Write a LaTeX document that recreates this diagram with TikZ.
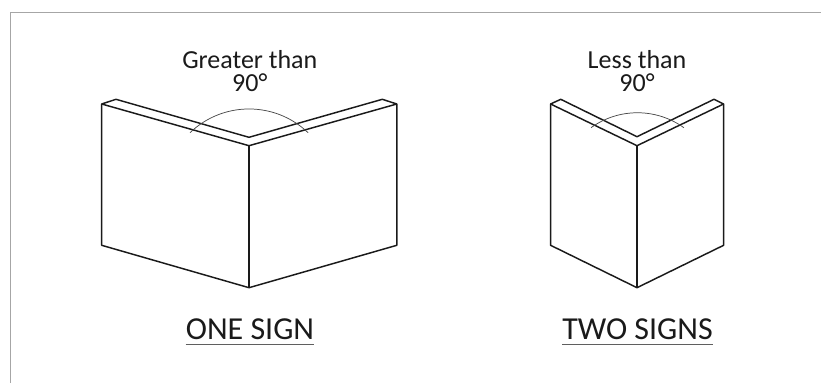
\documentclass[tikz,border=0pt]{standalone}
\usepackage{fontspec}
\usetikzlibrary{calc}
\setmainfont{Carlito}
\definecolor{framegray}{HTML}{A6A6A6}
\definecolor{inkblack}{HTML}{1A1A1A}
\tikzset{
  wall/.style={line width=1.1pt,draw=inkblack,line join=round},
  anglearc/.style={line width=0.55pt,draw=inkblack!80},
  signrule/.style={line width=0.8pt,draw=inkblack!70},
  anglelabel/.style={anchor=south,align=center,inner sep=0pt,text=inkblack,font=\fontsize{19.5}{17.25}\selectfont},
  signlabel/.style={anchor=base,inner sep=0pt,text=inkblack,font=\fontsize{24}{26}\selectfont}
}

\begin{document}
\begin{tikzpicture}[x=0.75pt,y=0.75pt]
    \useasboundingbox (0,0) rectangle (821,383);
    % frame, only top and left
    \draw[framegray,line width=1pt] (10.5,0) -- (10.5,370.5) -- (821,370.5);
    % left corner, wide angle
    \coordinate (LA) at (101.7,279);
    \coordinate (LB) at (116,283.7);
    \coordinate (LC) at (249,245.7);
    \coordinate (LD) at (382.3,283.7);
    \coordinate (LE) at (396.8,279);
    \coordinate (LF) at (249,237.3);
    \coordinate (LG) at (101.7,137.7);
    \coordinate (LH) at (249,95.3);
    \coordinate (LI) at (396.8,137.7);
    \draw[wall] (LG) -- (LA) -- (LB) -- (LC) -- (LD) -- (LE) -- (LI) -- (LH) -- cycle;
    \draw[wall] (LA) -- (LF) -- (LE);
    \draw[wall] (LF) -- (LH);
    % right corner, narrow angle
    \coordinate (RA) at (550.6,279);
    \coordinate (RB) at (560.7,283.7);
    \coordinate (RC) at (637,246.3);
    \coordinate (RD) at (714,283.7);
    \coordinate (RE) at (723.6,279);
    \coordinate (RF) at (637,237.3);
    \coordinate (RG) at (550.6,137.7);
    \coordinate (RH) at (637,95.3);
    \coordinate (RI) at (723.6,137.7);
    \draw[wall] (RG) -- (RA) -- (RB) -- (RC) -- (RD) -- (RE) -- (RI) -- (RH) -- cycle;
    \draw[wall] (RA) -- (RF) -- (RE);
    \draw[wall] (RF) -- (RH);
    % arcs
    \draw[anglearc] (190,250.3) arc[start angle=133.8,end angle=46.2,radius=85.3];
    \draw[anglearc] (591,255.3) arc[start angle=125.7,end angle=54.3,radius=79.6];
    % labels
    \node[anglelabel] (greater) at (249.8,291) {Greater than\\90°};
    \node[anglelabel] (less) at (637,291) {Less than\\90°};
    \node[signlabel] (onesign) at (250,43.3) {ONE SIGN};
    \node[signlabel] (twosigns) at (637.5,43.3) {TWO SIGNS};
    % underlines
    \draw[signrule] ($(onesign.base west)+(0,-4.6)$) -- ($(onesign.base east)+(0,-4.6)$);
    \draw[signrule] ($(twosigns.base west)+(0,-4.6)$) -- ($(twosigns.base east)+(0,-4.6)$);
\end{tikzpicture}
\end{document}
